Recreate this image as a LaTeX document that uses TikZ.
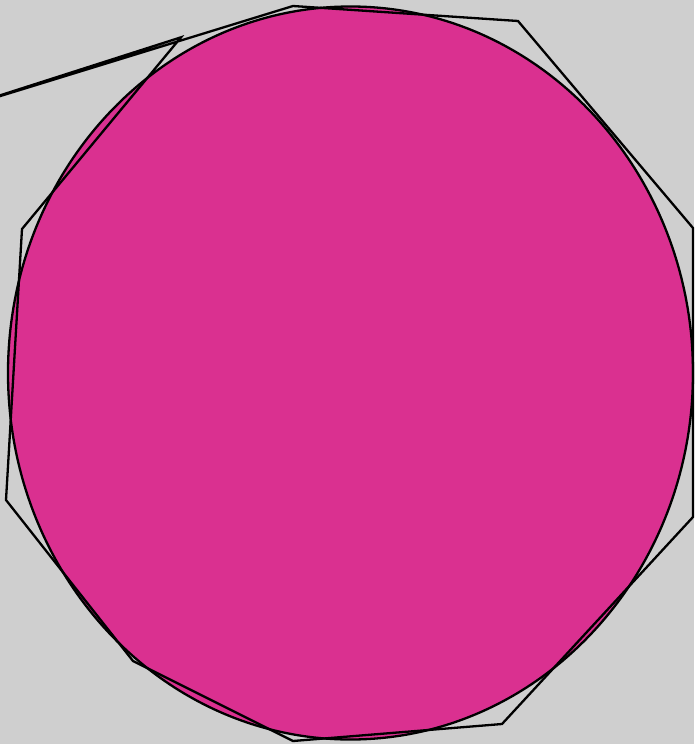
\documentclass[tikz,border=0pt]{standalone}
\definecolor{bgc}{RGB}{207,207,207}
\definecolor{blob}{RGB}{218,48,144}
\tikzset{shape line/.style={draw=black,line width=2.3pt,line join=miter}}
\begin{document}
\begin{tikzpicture}[x=1pt,y=-1pt]
\fill[bgc] (0,0) rectangle (694,744);
\useasboundingbox (0,0) rectangle (694,744);
\filldraw[fill=blob,shape line] (350.5,373) ellipse [x radius=342.5, y radius=366.5];
\draw[shape line] (-60,114.6) -- (293,6) -- (518,21) -- (693,228) -- (693,517) -- (502,724) -- (293,741) -- (133,661) -- (6,500) -- (22,229) -- (181,37.3) -- cycle;
\end{tikzpicture}
\end{document}
